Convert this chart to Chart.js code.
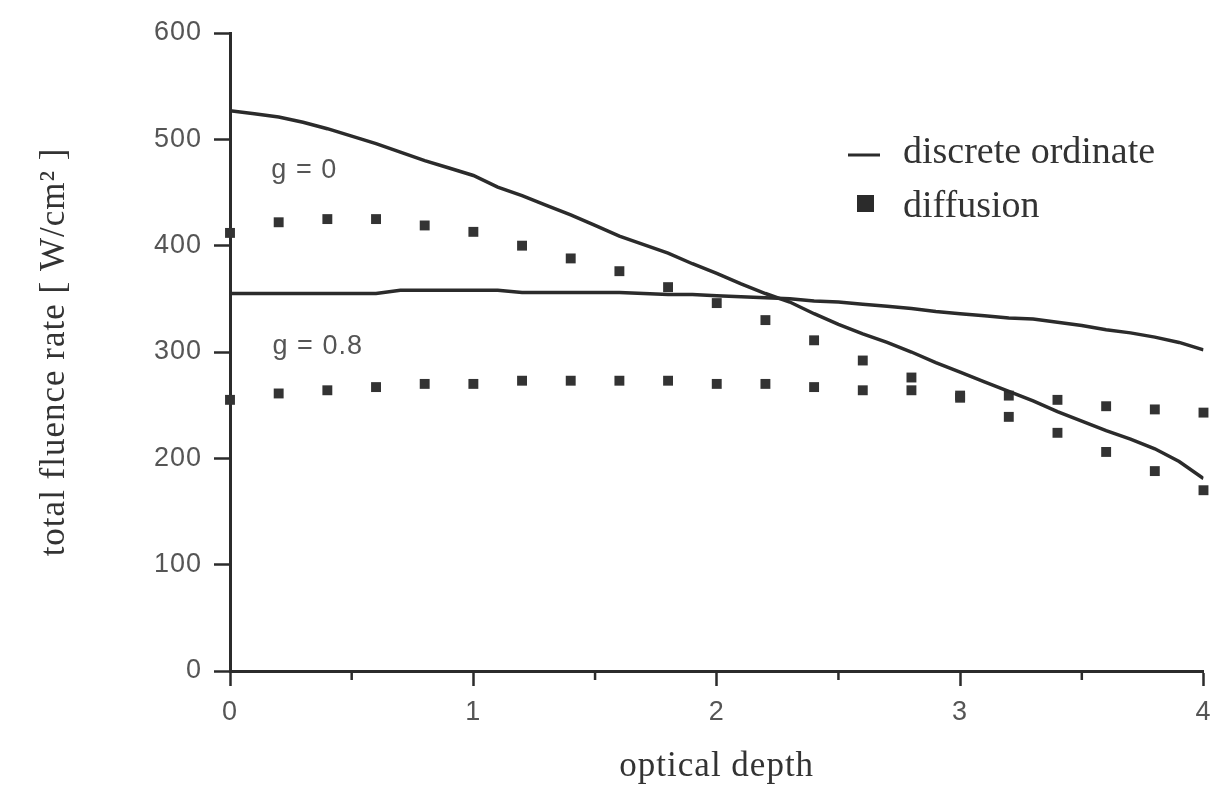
<!DOCTYPE html>
<html><head><meta charset="utf-8">
<script src="https://cdn.jsdelivr.net/npm/chart.js@4.4.1/dist/chart.umd.min.js"></script>
<style>html,body{margin:0;padding:0;background:#fff;}canvas{display:block;}</style>
</head><body>
<canvas id="c" width="1221" height="790"></canvas>
<script>
// ---- data ----
const depthLine = [0,0.1,0.2,0.3,0.4,0.5,0.6,0.7,0.8,0.9,1.0,1.1,1.2,1.3,1.4,1.5,1.6,1.7,1.8,1.9,2.0,2.1,2.2,2.3,2.4,2.5,2.6,2.7,2.8,2.9,3.0,3.1,3.2,3.3,3.4,3.5,3.6,3.7,3.8,3.9,4.0];
const ordinateG0 = [527,524,521,516,510,503,496,488,480,473,466,455,447,438,429,419,409,401,393,383,374,364,355,347,336,326,317,309,300,290,281,272,263,254,244,235,226,218,209,197,181];
const ordinateG08 = [355,355,355,355,355,355,355,358,358,358,358,358,356,356,356,356,356,355,354,354,353,352,351,350,348,347,345,343,341,338,336,334,332,331,328,325,321,318,314,309,302];
const depthPts = [0,0.2,0.4,0.6,0.8,1.0,1.2,1.4,1.6,1.8,2.0,2.2,2.4,2.6,2.8,3.0,3.2,3.4,3.6,3.8,4.0];
const diffusionG0 = [412,422,425,425,419,413,400,388,376,361,346,330,311,292,276,259,239,224,206,188,170];
const diffusionG08 = [255,261,264,267,270,270,273,273,273,273,270,270,267,264,264,257,259,255,249,246,243];
const xTickValues = [0,0.5,1,1.5,2,2.5,3,3.5,4];
const xTickLabels = ['0','','1','','2','','3','','4'];
const yTickValues = [0,100,200,300,400,500,600];
const yTickLabels = ['0','100','200','300','400','500','600'];
const legendLabels = ['discrete ordinate','diffusion'];
const annotations = [{text:'g = 0', x:0.17, y:464},{text:'g = 0.8', x:0.175, y:298}];

const INK = '#2b2b2b';
const GRAY = '#555';
const SERIF = '"Liberation Serif", "Times New Roman", serif';
const SANS = '"Liberation Sans", Arial, sans-serif';

const pts = (xs, ys) => xs.map((x, i) => ({x: x, y: ys[i]}));

const spacingPlugin = {
  id: 'spacing',
  beforeDraw(chart) { chart.ctx.letterSpacing = '1px'; }
};

const extrasPlugin = {
  id: 'extras',
  afterDraw(chart) {
    const ctx = chart.ctx;
    const xs = chart.scales.x, ys = chart.scales.y;
    const area = chart.chartArea;
    ctx.save();
    // minor x ticks (shorter)
    ctx.strokeStyle = INK; ctx.lineWidth = 2.5;
    xs.ticks.forEach(t => {
      if (!Number.isInteger(t.value)) {
        const px = xs.getPixelForValue(t.value);
        ctx.beginPath(); ctx.moveTo(px, area.bottom); ctx.lineTo(px, area.bottom + 9); ctx.stroke();
      }
    });
    // annotations
    ctx.letterSpacing = '1px';
    ctx.fillStyle = GRAY; ctx.font = '27px ' + SANS;
    ctx.textAlign = 'left'; ctx.textBaseline = 'alphabetic';
    annotations.forEach(a => ctx.fillText(a.text, xs.getPixelForValue(a.x), ys.getPixelForValue(a.y)));
    // legend
    ctx.letterSpacing = '0px';
    const lx = area.left + 618, ly = area.top + 122;
    ctx.strokeStyle = INK; ctx.lineWidth = 3;
    ctx.beginPath(); ctx.moveTo(lx, ly); ctx.lineTo(lx + 32, ly); ctx.stroke();
    ctx.fillStyle = INK;
    ctx.fillRect(lx + 9, ly + 40, 17, 17);
    ctx.fillStyle = '#333'; ctx.font = '38px ' + SERIF;
    ctx.fillText(legendLabels[0], lx + 55, ly + 8);
    ctx.fillText(legendLabels[1], lx + 55, ly + 62);
    ctx.restore();
  }
};

new Chart(document.getElementById('c'), {
  type: 'line',
  data: {
    datasets: [
      {label: 'discrete ordinate g=0', data: pts(depthLine, ordinateG0), borderColor: INK, borderWidth: 3.5, pointRadius: 0, tension: 0, fill: false},
      {label: 'discrete ordinate g=0.8', data: pts(depthLine, ordinateG08), borderColor: INK, borderWidth: 3.5, pointRadius: 0, tension: 0, fill: false},
      {label: 'diffusion g=0', data: pts(depthPts, diffusionG0), showLine: false, pointStyle: 'rect', pointRadius: 7, pointBackgroundColor: '#333', pointBorderWidth: 0, borderColor: '#333', clip: false},
      {label: 'diffusion g=0.8', data: pts(depthPts, diffusionG08), showLine: false, pointStyle: 'rect', pointRadius: 7, pointBackgroundColor: '#333', pointBorderWidth: 0, borderColor: '#333', clip: false}
    ]
  },
  options: {
    responsive: false,
    animation: false,
    layout: {padding: {left: 33, top: 33, right: 17, bottom: 0}},
    plugins: {legend: {display: false}, tooltip: {enabled: false}},
    scales: {
      x: {
        type: 'linear', min: 0, max: 4,
        afterBuildTicks: s => { s.ticks = xTickValues.map(v => ({value: v})); },
        afterFit: s => { s.height = 790 - 671; },
        ticks: {
          autoSkip: false, maxRotation: 0, padding: 10, color: GRAY,
          font: {family: SANS, size: 27},
          callback: (v) => { const i = xTickValues.indexOf(v); return i >= 0 ? xTickLabels[i] : ''; }
        },
        grid: {drawOnChartArea: false, tickLength: 15, tickWidth: 2.5,
          tickColor: c => (c.tick && Number.isInteger(c.tick.value)) ? INK : 'rgba(0,0,0,0)'},
        border: {display: true, color: INK, width: 3},
        title: {display: true, text: 'optical depth', color: '#333', font: {family: SERIF, size: 35}, padding: {top: 0, bottom: 2}}
      },
      y: {
        type: 'linear', min: 0, max: 600,
        afterBuildTicks: s => { s.ticks = yTickValues.map(v => ({value: v})); },
        afterFit: s => { s.width = 230 - 33; },
        ticks: {
          padding: 12, color: GRAY, font: {family: SANS, size: 27},
          callback: (v) => { const i = yTickValues.indexOf(v); return i >= 0 ? yTickLabels[i] : ''; }
        },
        grid: {drawOnChartArea: false, tickLength: 16, tickWidth: 2.5, tickColor: INK},
        border: {display: true, color: INK, width: 3},
        title: {display: true, text: 'total fluence rate [ W/cm² ]', color: '#333', font: {family: SERIF, size: 35}, padding: {top: 1, bottom: 0}}
      }
    }
  },
  plugins: [spacingPlugin, extrasPlugin]
});
</script>
</body></html>
